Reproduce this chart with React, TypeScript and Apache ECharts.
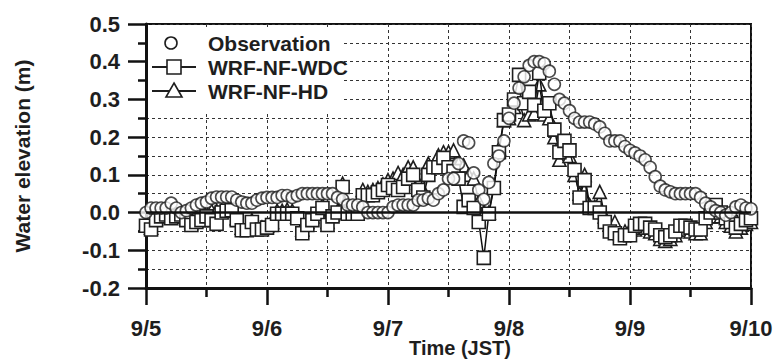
import React, { useEffect, useRef } from "react";
import * as echarts from "echarts";

// tick labels
const dayLabels = ["9/5", "9/6", "9/7", "9/8", "9/9", "9/10"];

// hourly values from 9/5 00:00 to 9/10 00:00 (121 points)
const observation = [
  0.0, 0.012, 0.012, 0.012, 0.012, 0.025, 0.012, 0.0, 0.005, 0.012, 0.02, 0.025, 0.028, 0.038, 0.041, 0.041, 0.041, 0.041, 0.033, 0.028, 0.025, 0.025, 0.033, 0.038, 0.04,
  0.04, 0.04, 0.045, 0.045, 0.04, 0.045, 0.05, 0.05, 0.05, 0.05, 0.05, 0.05, 0.05, 0.04, 0.035, 0.02, 0.02, 0.02, 0.015, 0.0, 0.0, 0.0, 0.0, 0.0,
  0.015, 0.02, 0.02, 0.02, 0.02, 0.033, 0.033, 0.038, 0.033, 0.05, 0.06, 0.09, 0.09, 0.13, 0.19, 0.185, 0.105, 0.06, 0.035, 0.08, 0.13, 0.15, 0.19, 0.25,
  0.29, 0.33, 0.36, 0.39, 0.4, 0.4, 0.395, 0.375, 0.34, 0.3, 0.29, 0.27, 0.25, 0.24, 0.24, 0.24, 0.235, 0.227, 0.21, 0.19, 0.19, 0.19, 0.175, 0.165,
  0.158, 0.15, 0.14, 0.12, 0.095, 0.07, 0.06, 0.055, 0.05, 0.05, 0.05, 0.05, 0.05, 0.04, 0.025, 0.015, 0.005, 0.0, -0.007, 0.0, 0.015, 0.02, 0.012, 0.01,
];

const wrfWdc = [
  -0.035, -0.045, -0.02, -0.01, -0.005, -0.015, -0.01, -0.005, -0.02, -0.033, -0.025, -0.02, -0.01, -0.02, -0.03, 0.0, 0.005, 0.006, -0.02, -0.047, -0.047, -0.025, -0.045, -0.045, -0.04,
  -0.033, -0.003, -0.003, -0.003, -0.003, -0.015, -0.055, -0.033, -0.02, -0.003, 0.012, -0.033, -0.01, 0.0, 0.068, -0.003, -0.003, -0.003, 0.046, 0.046, 0.046, 0.054, 0.06, 0.073,
  0.065, 0.06, 0.068, 0.09, 0.1, 0.06, 0.04, 0.1, 0.12, 0.12, 0.145, 0.12, 0.11, 0.09, 0.015, 0.033, 0.012, -0.025, -0.12, -0.003, 0.065, 0.16, 0.245, 0.26,
  0.3, 0.365, 0.29, 0.32, 0.285, 0.37, 0.27, 0.29, 0.22, 0.16, 0.19, 0.165, 0.113, 0.04, 0.086, 0.012, 0.012, 0.0, -0.025, -0.05, -0.055, -0.068, -0.06, -0.06,
  -0.035, -0.03, -0.03, -0.04, -0.045, -0.06, -0.065, -0.06, -0.05, -0.035, -0.035, -0.04, -0.045, -0.045, -0.015, 0.0, 0.02, 0.0, -0.015, -0.025, -0.04, -0.03, -0.02, -0.015,
];

const wrfHd = [
  -0.03, -0.04, -0.015, -0.005, 0.0, -0.01, -0.005, 0.0, -0.015, -0.025, -0.02, -0.015, 0.0, 0.005, 0.005, 0.005, 0.01, 0.01, -0.015, -0.04, -0.04, -0.02, -0.04, -0.04, -0.035,
  -0.025, 0.005, 0.005, 0.008, 0.005, -0.01, -0.045, -0.025, -0.01, 0.0, 0.02, -0.025, -0.005, 0.005, 0.077, 0.003, 0.0, 0.01, 0.06, 0.055, 0.06, 0.065, 0.075, 0.086,
  0.09, 0.105, 0.1, 0.12, 0.12, 0.08, 0.06, 0.13, 0.125, 0.152, 0.16, 0.16, 0.165, 0.13, 0.125, 0.1, 0.09, 0.03, 0.0, 0.0, 0.07, 0.17, 0.245, 0.25,
  0.28, 0.3, 0.245, 0.26, 0.263, 0.34, 0.26, 0.25, 0.2, 0.14, 0.16, 0.15, 0.1, 0.05, 0.1, 0.02, 0.015, 0.055, -0.01, -0.03, -0.025, -0.055, -0.05, -0.045,
  -0.045, -0.04, -0.04, -0.05, -0.055, -0.07, -0.075, -0.07, -0.06, -0.045, -0.045, -0.05, -0.055, -0.055, -0.025, -0.01, 0.01, -0.01, -0.025, -0.035, -0.05, -0.04, -0.03, -0.025,
];

const seriesNames = ["Observation", "WRF-NF-WDC", "WRF-NF-HD"];

const toPairs = (arr: number[]) => arr.map((v, i) => [i, v]);

const FONT = "'Liberation Sans', Arial, sans-serif";
const INK = "#1e1e1e";
const dash = [3, 3];

export default function App() {
  const ref = useRef<HTMLDivElement>(null);

  useEffect(() => {
    if (!ref.current) return;
    const chart = echarts.init(ref.current, null, { renderer: "svg" });
    const markerStyle = { color: "#fff", borderColor: INK, borderWidth: 1.6 };
    const legendFont = `bold 21px ${FONT}`;
    const option: any = {
      animation: false,
      backgroundColor: "#fff",
      grid: {
        left: 146,
        right: 27,
        top: 24,
        bottom: 72,
        show: true,
        borderColor: "#111",
        borderWidth: 2,
      },
      xAxis: {
        type: "value",
        min: 0,
        max: 120,
        interval: 24,
        axisLine: { show: true, onZero: false, lineStyle: { color: "#111", width: 3 } },
        axisTick: { show: true, length: 17, lineStyle: { color: "#111", width: 2.5 } },
        minorTick: { show: true, splitNumber: 2, length: 9, lineStyle: { color: "#111", width: 2.5 } },
        axisLabel: {
          margin: 29,
          fontFamily: FONT,
          fontWeight: "bold",
          fontSize: 22,
          color: INK,
          formatter: (v: number) => dayLabels[Math.round(v / 24)] ?? "",
        },
        splitLine: { show: true, lineStyle: { color: "#333", width: 1, type: dash } },
        minorSplitLine: { show: true, lineStyle: { color: "#333", width: 1, type: dash } },
      },
      yAxis: {
        type: "value",
        min: -0.2,
        max: 0.5,
        interval: 0.1,
        axisLine: { show: true, lineStyle: { color: "#111", width: 3 } },
        axisTick: { show: true, length: 18, lineStyle: { color: "#111", width: 2.5 } },
        minorTick: { show: true, splitNumber: 2, length: 8, lineStyle: { color: "#111", width: 2.5 } },
        axisLabel: {
          margin: 26,
          fontFamily: FONT,
          fontWeight: "bold",
          fontSize: 22,
          color: INK,
          formatter: (v: number) => v.toFixed(1),
        },
        splitLine: { show: true, lineStyle: { color: "#333", width: 1, type: dash } },
        minorSplitLine: { show: true, lineStyle: { color: "#333", width: 1, type: dash } },
      },
      series: [
        {
          name: seriesNames[2],
          type: "line",
          data: toPairs(wrfHd),
          symbol: "triangle",
          symbolSize: 13,
          showAllSymbol: true,
          lineStyle: { color: "#111", width: 1.5 },
          itemStyle: markerStyle,
          z: 2,
          markLine: {
            silent: true,
            symbol: "none",
            label: { show: false },
            lineStyle: { color: "#111", width: 2.5, type: "solid" },
            data: [{ yAxis: 0 }],
          },
        },
        {
          name: seriesNames[1],
          type: "line",
          data: toPairs(wrfWdc),
          symbol: "rect",
          symbolSize: 13,
          showAllSymbol: true,
          lineStyle: { color: "#111", width: 1.5 },
          itemStyle: markerStyle,
          z: 3,
        },
        {
          name: seriesNames[0],
          type: "scatter",
          data: toPairs(observation),
          symbol: "circle",
          symbolSize: 12,
          itemStyle: markerStyle,
          z: 4,
        },
      ],
      graphic: [
        {
          type: "rect",
          shape: { x: 148, y: 30, width: 196, height: 83 },
          style: { fill: "#fff" },
          z: 10,
        },
        {
          type: "circle",
          shape: { cx: 171, cy: 43, r: 6 },
          style: { fill: "#fff", stroke: INK, lineWidth: 1.6 },
          z: 11,
        },
        {
          type: "line",
          shape: { x1: 152, y1: 67, x2: 196, y2: 67 },
          style: { stroke: INK, lineWidth: 1.8 },
          z: 11,
        },
        {
          type: "rect",
          shape: { x: 167, y: 60, width: 14, height: 14 },
          style: { fill: "#fff", stroke: INK, lineWidth: 1.6 },
          z: 12,
        },
        {
          type: "line",
          shape: { x1: 152, y1: 91, x2: 196, y2: 91 },
          style: { stroke: INK, lineWidth: 1.8 },
          z: 11,
        },
        {
          type: "polygon",
          shape: { points: [[174, 83], [182, 97], [166, 97]] },
          style: { fill: "#fff", stroke: INK, lineWidth: 1.6 },
          z: 12,
        },
        {
          type: "text",
          x: 208,
          y: 43,
          style: { text: seriesNames[0], font: legendFont, fill: INK, verticalAlign: "middle", align: "left" },
          z: 12,
        },
        {
          type: "text",
          x: 208,
          y: 67,
          style: { text: seriesNames[1], font: legendFont, fill: INK, verticalAlign: "middle", align: "left" },
          z: 12,
        },
        {
          type: "text",
          x: 208,
          y: 91,
          style: { text: seriesNames[2], font: legendFont, fill: INK, verticalAlign: "middle", align: "left" },
          z: 12,
        },
        {
          type: "text",
          x: 460,
          y: 348,
          style: { text: "Time (JST)", font: `bold 20px ${FONT}`, fill: INK, verticalAlign: "middle", align: "center" },
        },
        {
          type: "text",
          x: 22,
          y: 156,
          rotation: Math.PI / 2,
          style: { text: "Water elevation (m)", font: `bold 21px ${FONT}`, fill: INK, verticalAlign: "middle", align: "center" },
        },
      ],
    };
    chart.setOption(option);
    return () => chart.dispose();
  }, []);

  return (
    <div
      ref={ref}
      style={{ position: "absolute", left: 0, top: 0, width: 778, height: 360, background: "#fff" }}
    />
  );
}
